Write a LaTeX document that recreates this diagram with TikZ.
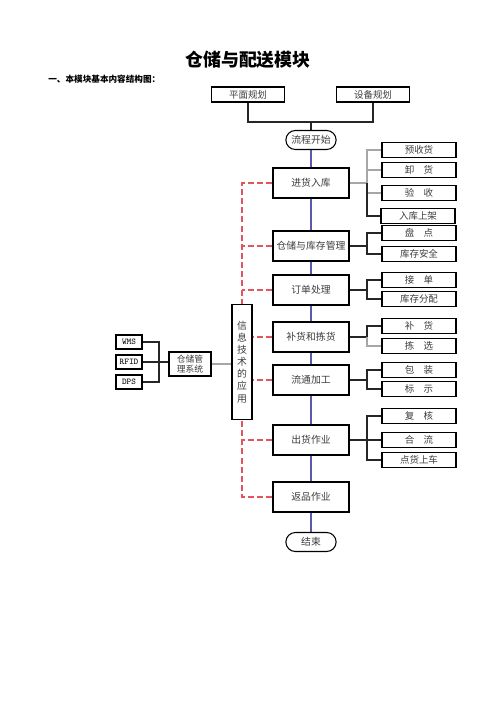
\documentclass[tikz,border=0pt]{standalone}
\usepackage{fontspec}
\newfontfamily\cjk{Noto Sans CJK SC}
\usetikzlibrary{shapes.misc}
\definecolor{flowblue}{RGB}{0,0,130}
\definecolor{infored}{RGB}{225,85,95}
\definecolor{boxtext}{RGB}{60,60,60}
\tikzset{
  mainbox/.style={draw,semithick,minimum width=15.2mm,minimum height=6mm,inner sep=1pt,text=boxtext,font=\cjk\fontsize{5.6}{7}\selectfont},
  subbox/.style={draw,semithick,minimum width=14.8mm,minimum height=3mm,inner sep=0.5pt,text=boxtext,font=\cjk\fontsize{5.4}{6}\selectfont},
  planbox/.style={draw,semithick,minimum width=14.6mm,minimum height=3mm,inner sep=0.5pt,text=boxtext,font=\cjk\fontsize{5.4}{6}\selectfont},
  pill/.style={draw,semithick,rounded rectangle,minimum width=10.4mm,minimum height=3.8mm,inner sep=0.5pt,text=boxtext,font=\cjk\fontsize{5.6}{7}\selectfont},
  tagbox/.style={draw,semithick,minimum width=5.2mm,minimum height=2.8mm,inner sep=0.5pt,font=\ttfamily\fontsize{5}{6}\selectfont},
  flow/.style={semithick,draw=flowblue},
  branch/.style={semithick,draw=black!85},
  link/.style={semithick,draw=gray!70},
  infoline/.style={line width=1.1pt,draw=infored,dash pattern=on 3.4pt off 1.8pt}
}
\begin{document}
\begin{tikzpicture}[x=0.2mm,y=-0.2mm]
  \useasboundingbox (0,0) rectangle (496,702);
  \node[font=\cjk\bfseries\fontsize{10.2}{12}\selectfont] (title) at (248,60) {仓储与配送模块};
  \node[anchor=west,inner sep=0,font=\cjk\bfseries\fontsize{4.9}{6}\selectfont] (head) at (48,79) {一、本模块基本内容结构图：};
  \node[planbox] (pm) at (248,94.5) {平面规划};
  \node[planbox] (sb) at (373,94.5) {设备规划};
  \node[pill] (start) at (311,140) {流程开始};
  \node[mainbox] (jh) at (311,183) {进货入库};
  \node[mainbox] (cc) at (311,246) {仓储与库存管理};
  \node[mainbox] (dd) at (311,290) {订单处理};
  \node[mainbox] (bh) at (311,337) {补货和拣货};
  \node[mainbox] (lt) at (311,380) {流通加工};
  \node[mainbox] (ch) at (311,440) {出货作业};
  \node[mainbox] (fp) at (311,497) {返品作业};
  \node[pill] (end) at (311,542) {结束};
  \node[subbox] (ys) at (419,150) {预收货};
  \node[subbox] (xh) at (419,170) {卸\quad 货};
  \node[subbox] (yan) at (419,193) {验\quad 收};
  \node[subbox] (rk) at (418,216) {入库上架};
  \node[subbox] (pd) at (419,233) {盘\quad 点};
  \node[subbox] (aq) at (419,254) {库存安全};
  \node[subbox] (jd) at (419,280) {接\quad 单};
  \node[subbox] (fpei) at (419,299) {库存分配};
  \node[subbox] (bu) at (419,326) {补\quad 货};
  \node[subbox] (jx) at (419,346) {拣\quad 选};
  \node[subbox] (bz) at (419,370) {包\quad 装};
  \node[subbox] (bs) at (419,389) {标\quad 示};
  \node[subbox] (fh) at (419,416) {复\quad 核};
  \node[subbox] (hl) at (419,440) {合\quad 流};
  \node[subbox] (ds) at (419,460) {点货上车};
  \node[draw,semithick,minimum width=4mm,minimum height=23mm,inner sep=0pt,text=boxtext,align=center,font=\cjk\fontsize{5.6}{6.9}\selectfont] (info) at (242,362) {信\\息\\技\\术\\的\\应\\用};
  \node[draw,semithick,minimum width=8.4mm,minimum height=4.8mm,inner sep=0.5pt,text=boxtext,align=center,font=\cjk\fontsize{5}{5.8}\selectfont] (sys) at (190,364) {仓储管\\理系统};
  \node[tagbox] (wms) at (129,342) {WMS};
  \node[tagbox] (rfid) at (129,362) {RFID};
  \node[tagbox] (dps) at (129,382) {DPS};
  \coordinate (tj) at (311,122);
  \draw[branch] (pm.south) |- (tj) -| (sb.south);
  \draw[branch] (tj) -- (start.north);
  \draw[flow] (start) -- (jh) -- (cc) -- (dd) -- (bh) -- (lt) -- (ch) -- (fp) -- (end);
  \coordinate (b1) at (367,183); \coordinate (b2) at (367,246); \coordinate (b3) at (367,290);
  \coordinate (b4) at (367,337); \coordinate (b5) at (367,380); \coordinate (b6) at (367,440);
  \draw[link] (jh.east) -- (b1) |- (ys.west); \draw[link] (b1) |- (xh.west); \draw[link] (b1) |- (yan.west); \draw[branch] (b1) |- (rk.west);
  \draw[branch] (cc.east) -- (b2) |- (pd.west); \draw[branch] (b2) |- (aq.west);
  \draw[branch] (dd.east) -- (b3) |- (jd.west); \draw[branch] (b3) |- (fpei.west);
  \draw[branch] (bh.east) -- (b4) |- (bu.west); \draw[link] (b4) |- (jx.west);
  \draw[branch] (lt.east) -- (b5) |- (bz.west); \draw[branch] (b5) |- (bs.west);
  \draw[branch] (ch.east) -- (b6) |- (fh.west); \draw[branch] (b6) |- (hl.west); \draw[branch] (b6) |- (ds.west);
  \draw[infoline] (jh.west) -| (info.north);
  \draw[infoline] (cc.west) -- (cc.west -| info.north);
  \draw[infoline] (dd.west) -- (dd.west -| info.north);
  \draw[infoline] (bh.west) -- (bh.west -| info.east);
  \draw[infoline] (lt.west) -- (lt.west -| info.east);
  \draw[infoline] (ch.west) -- (ch.west -| info.south);
  \draw[infoline] (fp.west) -| (info.south);
  \draw[link] (sys.east) -- (sys.east -| info.west);
  \coordinate (wb) at (159,362);
  \draw[branch] (wms.east) -| (wb) |- (dps.east);
  \draw[branch] (rfid.east) -- (sys.west |- rfid.east);
\end{tikzpicture}
\end{document}
